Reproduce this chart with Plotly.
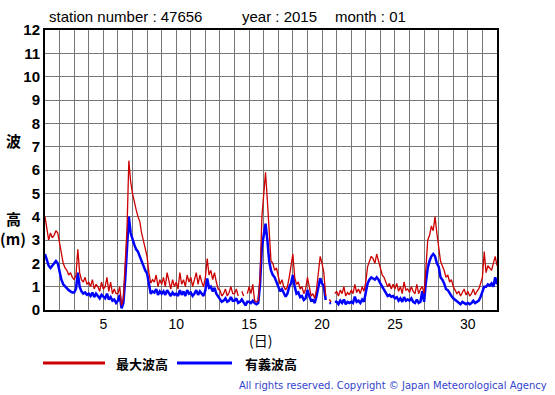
import plotly.graph_objects as go

# 3-hourly samples, day 1.0 .. 32.0
max_wave = [
    4.0, 3.4, 3.0, 3.3, 3.1, 3.2, 3.4, 3.3,   # day 1
    2.9, 2.5, 2.0, 1.8, 1.7, 1.5, 1.6, 1.4,   # 2
    1.3, 1.5, 2.6, 1.6, 1.3, 1.2, 1.4, 1.1,   # 3
    1.2, 1.0, 1.3, 0.9, 1.1, 1.0, 0.8, 1.2,   # 4
    0.9, 1.0, 1.4, 0.8, 1.2, 0.7, 0.9, 0.7,   # 5
    0.7, 1.0, 0.2, 0.5, 1.8, 3.5, 6.4, 5.5,   # 6
    5.0, 4.6, 4.3, 4.0, 3.8, 3.3, 3.0, 2.6,   # 7
    2.3, 1.6, 1.15, 1.3, 1.2, 1.5, 1.0, 1.3,  # 8
    1.1, 1.4, 1.0, 1.6, 1.2, 0.9, 1.3, 1.0,   # 9
    1.2, 0.9, 1.6, 1.1, 1.3, 1.0, 1.5, 1.2,   # 10
    1.4, 1.0, 1.3, 1.6, 1.1, 1.5, 1.2, 1.0,   # 11
    1.4, 2.2, 1.5, 1.7, 1.3, 1.6, 1.2, 0.9,   # 12
    0.85, 0.6, 0.7, 0.9, 0.6, 0.75, 1.0, 0.7, # 13
    0.7, 0.9, 0.6, None, 0.8, 0.6, None, 0.7, # 14
    1.0, 0.7, 1.1, 0.4, 0.35, 0.4, 1.4, 4.0,  # 15
    5.0, 5.9, 4.7, 3.1, 2.1, 2.0, 1.7, 1.8,   # 16
    1.4, 1.1, 1.3, 1.0, 0.86, 1.0, 1.4, 1.9,  # 17
    2.4, 1.4, 1.1, 1.2, 0.9, 1.0, 0.7, 0.9,   # 18
    1.4, 1.0, 0.6, 0.7, 0.5, 0.9, 1.57, 2.3,  # 19
    2.0, 1.6, 0.6, None, 0.45, 0.35, None, 0.7,  # 20
    0.8, 0.6, 0.85, 0.7, 1.0, 0.6, 0.75, 0.65,   # 21
    0.85, 0.7, 1.1, 0.75, 0.9, 0.7, 1.0, 0.8,    # 22
    1.2, 1.86, 2.1, 2.3, 2.2, 2.0, 2.4, 2.1,     # 23
    1.7, 1.5, 1.4, 1.2, 1.0, 1.14, 0.9, 1.1,     # 24
    0.9, 1.14, 0.8, 1.0, 0.7, 1.2, 0.85, 0.9,    # 25
    0.75, 1.0, 0.8, 0.7, 1.1, 0.7, 0.9, 1.0,     # 26
    0.7, 1.8, 3.0, 3.2, 3.6, 3.4, 4.0, 3.3,      # 27
    2.6, 2.1, 1.9, 1.7, 1.4, 1.5, 1.2, 1.3,      # 28
    1.0, 0.85, 0.7, 0.8, 0.6, 0.75, 0.9, 0.65,   # 29
    0.8, 0.6, 0.7, 0.9, 0.65, 0.8, 0.9, 1.14,    # 30
    1.4, 2.5, 1.6, 1.9, 1.8, 1.7, 2.0, 2.3,      # 31
    1.9,                                          # 32.0
]

sig_wave = [
    2.4, 2.1, 1.9, 1.8, 1.9, 2.0, 2.1, 2.0,
    1.6, 1.3, 1.1, 1.0, 0.9, 0.85, 0.8, 0.75,
    0.75, 0.9, 1.6, 1.0, 0.8, 0.7, 0.75, 0.65,
    0.7, 0.6, 0.75, 0.55, 0.7, 0.6, 0.5, 0.65,
    0.55, 0.5, 0.7, 0.45, 0.55, 0.4, 0.45, 0.3,
    0.4, 0.65, 0.07, 0.3, 1.3, 2.5, 4.0, 3.3,
    3.0, 2.8, 2.6, 2.5, 2.3, 2.1, 1.86, 1.7,
    1.57, 1.14, 0.7, 0.8, 0.75, 0.9, 0.65, 0.8,
    0.7, 0.8, 0.65, 0.85, 0.7, 0.6, 0.75, 0.65,
    0.7, 0.6, 0.85, 0.65, 0.8, 0.6, 0.85, 0.7,
    0.75, 0.6, 0.7, 0.85, 0.65, 0.8, 0.7, 0.6,
    0.85, 1.35, 0.95, 1.0, 0.8, 0.95, 0.7, 0.6,
    0.5, 0.35, 0.4, 0.5, 0.35, 0.4, 0.55, 0.4,
    0.4, 0.5, 0.3, 0.35, 0.45, 0.3, 0.2, 0.35,
    0.35, 0.3, 0.4, 0.3, 0.25, 0.3, 1.1, 2.7,
    3.3, 3.7, 3.0, 2.1, 1.7, 1.5, 1.4, 1.2,
    1.0, 0.8, 0.9, 0.7, 0.57, 0.7, 1.0, 1.14,
    1.5, 1.0, 0.7, 0.75, 0.55, 0.6, 0.43, 0.5,
    0.86, 0.6, 0.4, 0.43, 0.3, 0.6, 1.0, 1.36,
    1.14, 1.0, 0.43, None, 0.3, 0.3, None, 0.35,
    0.35, 0.25, 0.4, 0.3, 0.45, 0.25, 0.35, 0.3,
    0.35, 0.3, 0.57, 0.35, 0.4, 0.3, 0.45, 0.35,
    0.7, 1.14, 1.3, 1.4, 1.35, 1.3, 1.4, 1.3,
    1.14, 1.0, 0.85, 0.75, 0.6, 0.65, 0.57, 0.6,
    0.5, 0.55, 0.4, 0.5, 0.35, 0.55, 0.4, 0.45,
    0.4, 0.5, 0.35, 0.3, 0.45, 0.3, 0.35, 0.8,
    0.35, 1.2, 1.8, 2.1, 2.3, 2.4, 2.3, 2.0,
    1.86, 1.4, 1.3, 1.14, 0.9, 0.85, 0.7, 0.6,
    0.5, 0.43, 0.35, 0.3, 0.25, 0.35, 0.3, 0.25,
    0.3, 0.25, 0.3, 0.4, 0.3, 0.35, 0.4, 0.57,
    0.8, 1.0, 1.0, 1.1, 1.05, 1.14, 1.0, 1.4,
    1.1,
]

days = [1 + i / 8 for i in range(len(max_wave))]
x_tick_vals = list(range(1, 33))
x_tick_text = [str(d) if d % 5 == 0 else "" for d in x_tick_vals]
y_tick_vals = list(range(0, 13))

RED = "#cc0000"
BLUE = "#0000ff"
FONT = "Liberation Sans, Arial, sans-serif"
JFONT = "Noto Sans CJK JP, sans-serif"

fig = go.Figure()
fig.add_trace(go.Scatter(x=days, y=sig_wave, mode="lines",
                         line=dict(color=BLUE, width=2.5), connectgaps=False,
                         name="有義波高", showlegend=False, hoverinfo="skip"))
fig.add_trace(go.Scatter(x=days, y=max_wave, mode="lines",
                         line=dict(color=RED, width=1.3), connectgaps=False,
                         name="最大波高", showlegend=False, hoverinfo="skip"))

W, H = 555, 395
L, R, T, B = 45, 58, 30, 85
pw, ph = W - L - R, H - T - B


def px(x):
    return (x - L) / pw


def py(y):
    return (H - B - y) / ph


fig.update_layout(
    width=W, height=H,
    margin=dict(l=L, r=R, t=T, b=B),
    paper_bgcolor="white", plot_bgcolor="white",
    font=dict(family=FONT, color="black"),
    xaxis=dict(range=[1, 32], tickmode="array", tickvals=x_tick_vals,
               ticktext=x_tick_text, showgrid=True, gridcolor="#777777",
               gridwidth=1, showline=True, linecolor="black", linewidth=2,
               mirror=True, ticks="", zeroline=False,
               tickfont=dict(size=14, family=FONT)),
    yaxis=dict(range=[0, 12], tickmode="array", tickvals=y_tick_vals,
               showgrid=True, gridcolor="#777777", gridwidth=1,
               showline=True, linecolor="black", linewidth=2, mirror=True,
               ticks="", zeroline=False,
               tickfont=dict(size=15, family=FONT, weight="bold")),
)

ann = []
for txt, xx in [("station number : 47656", 47), ("year : 2015", 240), ("month : 01", 333)]:
    ann.append(dict(x=px(xx), y=py(17), xref="paper", yref="paper", text=txt,
                    showarrow=False, xanchor="left", yanchor="middle",
                    font=dict(size=15, family=FONT)))
for txt, yy in [("波", 140), ("高", 218), ("(m)", 238)]:
    ann.append(dict(x=px(13), y=py(yy), xref="paper", yref="paper", text=txt,
                    showarrow=False, xanchor="center", yanchor="middle",
                    font=dict(size=15, family=JFONT, weight="bold")))
ann.append(dict(x=px(260), y=py(340), xref="paper", yref="paper", text="(日)",
                showarrow=False, xanchor="center", yanchor="middle",
                font=dict(size=14, family=JFONT)))
ann.append(dict(x=px(114), y=py(363), xref="paper", yref="paper", text="最大波高",
                showarrow=False, xanchor="left", yanchor="middle",
                font=dict(size=13, family=JFONT, weight="bold")))
ann.append(dict(x=px(243), y=py(363), xref="paper", yref="paper", text="有義波高",
                showarrow=False, xanchor="left", yanchor="middle",
                font=dict(size=13, family=JFONT, weight="bold")))
ann.append(dict(x=px(549), y=py(385), xref="paper", yref="paper",
                text="All rights reserved. Copyright © Japan Meteorological Agency",
                showarrow=False, xanchor="right", yanchor="middle",
                font=dict(size=10, family="DejaVu Sans, sans-serif", color="#3344cc")))
fig.update_layout(annotations=ann)

fig.add_shape(type="line", xref="paper", yref="paper", x0=px(43), x1=px(105),
              y0=py(363), y1=py(363), line=dict(color=RED, width=3))
fig.add_shape(type="line", xref="paper", yref="paper", x0=px(177), x1=px(232),
              y0=py(363), y1=py(363), line=dict(color=BLUE, width=3))

fig.write_html("out.html", config={"displayModeBar": False},
               post_script="document.body.style.margin='0';document.body.style.padding='0';")
